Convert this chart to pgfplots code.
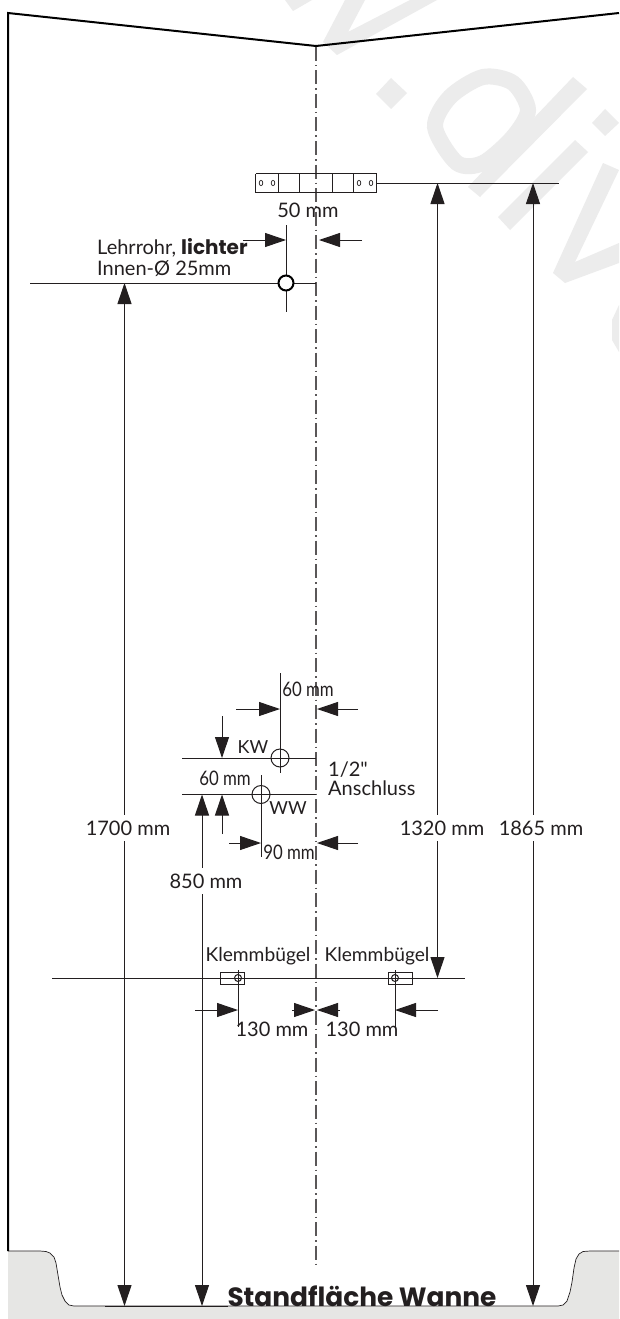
\documentclass[border=0pt]{standalone}
\usepackage{graphicx}
\usepackage{pgfplots}
\pgfplotsset{compat=1.18}
\usepackage{fontspec}
\setmainfont{Lato}
\newfontfamily\titlefont{Poppins}
\newfontfamily\plainfont{Lato}
\usetikzlibrary{arrows.meta}
\definecolor{wm}{RGB}{236,236,236}
\definecolor{basin}{RGB}{230,230,228}
\definecolor{ink}{RGB}{35,31,32}
\newcommand{\narrow}[1]{\scalebox{0.84}[1]{#1}}
\tikzset{
  thin line/.style={ink,line width=1pt},
  head/.style={-{Triangle[length=21pt,width=14pt]}},
  both/.style={{Triangle[length=21pt,width=14pt]}-{Triangle[length=21pt,width=14pt]}},
  lab/.style={font=\fontsize{20}{20}\selectfont,text=ink,inner sep=0pt},
  gaplab/.style={lab,fill=white,inner xsep=1pt,inner ysep=6pt},
  wmark/.style={fill=wm,draw=none},
  ring/.style={ink,only marks,mark=o,mark options={draw=ink,fill opacity=0}},
}
\begin{document}
\begin{tikzpicture}
\begin{axis}[
  scale only axis,
  width=619pt,
  height=1319pt,
  xmin=0, xmax=619,
  ymin=0, ymax=1319,
  y dir=reverse,
  hide axis,
  no markers,
  clip=true,
  every axis plot/.append style={thin line},
]
% page
\addplot[fill=white,draw=none] coordinates {(0,0) (619,0) (619,1319) (0,1319) (0,0)};
% watermark
\addplot[wmark] coordinates {(285,0) (293,11) (312,0) (285,0)};
\addplot[wmark] coordinates {(345,0) (323,42) (337,55) (437,0) (410,0) (348,32) (365,0) (345,0)};
\addplot[wmark] coordinates {(391,78) (407,93) (391,109) (376,94) (391,78)};
\addplot[wm,line width=16pt,smooth cycle] coordinates {(435,127) (450,97) (483,77) (513,83) (528,110) (513,137) (483,163) (457,163)};
\addplot[wmark] coordinates {(573,77) (587,89) (480,197) (468,187) (573,77)};
\addplot[wmark] coordinates {(605,109) (619,123) (605,136) (592,123) (605,109)};
\addplot[wmark] coordinates {(575,140) (588,152) (510,230) (498,217) (575,140)};
\addplot[wmark] coordinates {(603,163) (619,170) (575,262) (619,243) (619,263) (565,283) (553,273) (603,163)};
\addplot[wmark] coordinates {(619,305) (612,320) (612,340) (619,352) (619,305)};
% tub: grey block with the white well cut out of it
\addplot[fill=basin,draw=none] coordinates {(8,1251) (619,1251) (619,1319) (8,1319) (8,1251)};
\addplot[fill=white,draw=ink,line width=0.7pt] coordinates {(8,1251) (40,1251) (46,1251.5) (50,1253) (54,1257) (56,1263) (58,1275) (60,1287) (62,1295) (65,1301) (69,1305) (74,1306)
  (558,1306) (563,1305) (567,1301) (570,1292) (572,1282) (574,1268) (576,1259) (579,1254) (583,1251.5) (590,1251) (619,1251)};
\addplot[ink,line width=1pt] coordinates {(105,1306) (228,1306)};
% wall outline
\addplot[black,line width=2pt] coordinates {(8,1251) (8,13) (316,46) (619,13)};
% centre line
\addplot[ink!75,line width=1.1pt,dash pattern=on 14pt off 4pt on 1.5pt off 4pt] coordinates {(316,47) (316,1268)};
% top bracket
\addplot[ink] coordinates {(255.5,173.5) (376,173.5) (376,192) (255.5,192) (255.5,173.5)};
\addplot[ink] coordinates {(278,173.5) (278,192)};
\addplot[ink] coordinates {(299,173.5) (299,192)};
\addplot[ink] coordinates {(332,173.5) (332,192)};
\addplot[ink] coordinates {(353,173.5) (353,192)};
\addplot[ring,line width=0.7pt,mark size=2.6pt,mark options={draw=ink,fill opacity=0,xscale=0.7}] coordinates {(261,183) (273,183) (359,183) (371,183)};
\addplot[ink] coordinates {(376,183) (559,183)};
% Leerrohr
\addplot[ink] coordinates {(286,225) (286,312)};
\addplot[ink] coordinates {(30,283) (316,283)};
\addplot[black,line width=2pt,only marks,mark=*,mark size=7.5pt,mark options={fill=white}] coordinates {(286,283)};
\addplot[ink,head] coordinates {(243,240) (286,240)};
\addplot[ink,head] coordinates {(362,240) (319,240)};
% 1/2 inch connections
\addplot[ink] coordinates {(280,673) (280,773)};
\addplot[ink] coordinates {(182,758) (316,758)};
\addplot[ink] coordinates {(182,794.5) (316,794.5)};
\addplot[ink] coordinates {(261,775) (261,857)};
\addplot[ring,mark size=9pt] coordinates {(280,758) (261,794.5)};
\addplot[ink,head] coordinates {(236,709) (280,709)};
\addplot[ink,head] coordinates {(358,709) (317,709)};
\addplot[ink,head] coordinates {(222,716) (222,758)};
\addplot[ink,head] coordinates {(222,834) (222,794.5)};
\addplot[ink,head] coordinates {(229,843) (261,843)};
\addplot[ink,head] coordinates {(358,843) (317,843)};
% clamps
\addplot[ink] coordinates {(52,978) (465,978)};
\addplot[ink] coordinates {(220,972) (244,972) (244,984) (220,984) (220,972)};
\addplot[ink] coordinates {(388,972) (412,972) (412,984) (388,984) (388,972)};
\addplot[ring,mark size=3.5pt] coordinates {(238,978) (395,978)};
\addplot[ink] coordinates {(238,970) (238,1027)};
\addplot[ink] coordinates {(395,970) (395,1027)};
\addplot[ink,head] coordinates {(195,1010) (238,1010)};
\addplot[ink,head] coordinates {(438,1010) (395,1010)};
\addplot[ink,head] coordinates {(292,1010) (315,1010)};
\addplot[ink,head] coordinates {(340,1010) (317,1010)};
% long dimensions
\addplot[ink,both] coordinates {(124.5,283) (124.5,1306)};
\addplot[ink,both] coordinates {(202,794.5) (202,1306)};
\addplot[ink,both] coordinates {(437.5,183) (437.5,978)};
\addplot[ink,both] coordinates {(533,183) (533,1306)};
% labels
\node[lab] at (axis cs:308,210) {50 mm};
\node[lab,anchor=base west] at (axis cs:97,254) {Lehrrohr, {\titlefont\bfseries lichter}};
\node[lab,anchor=base west] at (axis cs:97,275) {Innen-Ø 25mm};
\node[lab] at (axis cs:308,689) {\narrow{60 mm}};
\node[lab,font=\fontsize{18}{18}\selectfont] at (axis cs:253,747) {KW};
\node[lab] at (axis cs:225,778) {\narrow{60 mm}};
\node[lab,font=\fontsize{18}{18}\selectfont] at (axis cs:288,808) {WW};
\node[lab,anchor=west,align=left,font=\fontsize{20}{19}\selectfont] at (axis cs:328,778.5) {{\plainfont 1/2"}\\Anschluss};
\node[lab] at (axis cs:289,852) {\narrow{90 mm}};
\node[gaplab] at (axis cs:128,828) {1700 mm};
\node[gaplab] at (axis cs:206,881) {850 mm};
\node[gaplab] at (axis cs:442,828) {1320 mm};
\node[gaplab] at (axis cs:541,828) {1865 mm};
\node[lab,font=\fontsize{19.2}{20}\selectfont] at (axis cs:258,956) {Klemmbügel};
\node[lab,font=\fontsize{19.2}{20}\selectfont] at (axis cs:377,956) {Klemmbügel};
\node[lab] at (axis cs:272,1029) {130 mm};
\node[lab] at (axis cs:362,1029) {130 mm};
\node[lab,font=\fontsize{26.4}{26}\titlefont\bfseries] at (axis cs:362,1296) {Standfläche Wanne};
\end{axis}
\end{tikzpicture}
\end{document}
